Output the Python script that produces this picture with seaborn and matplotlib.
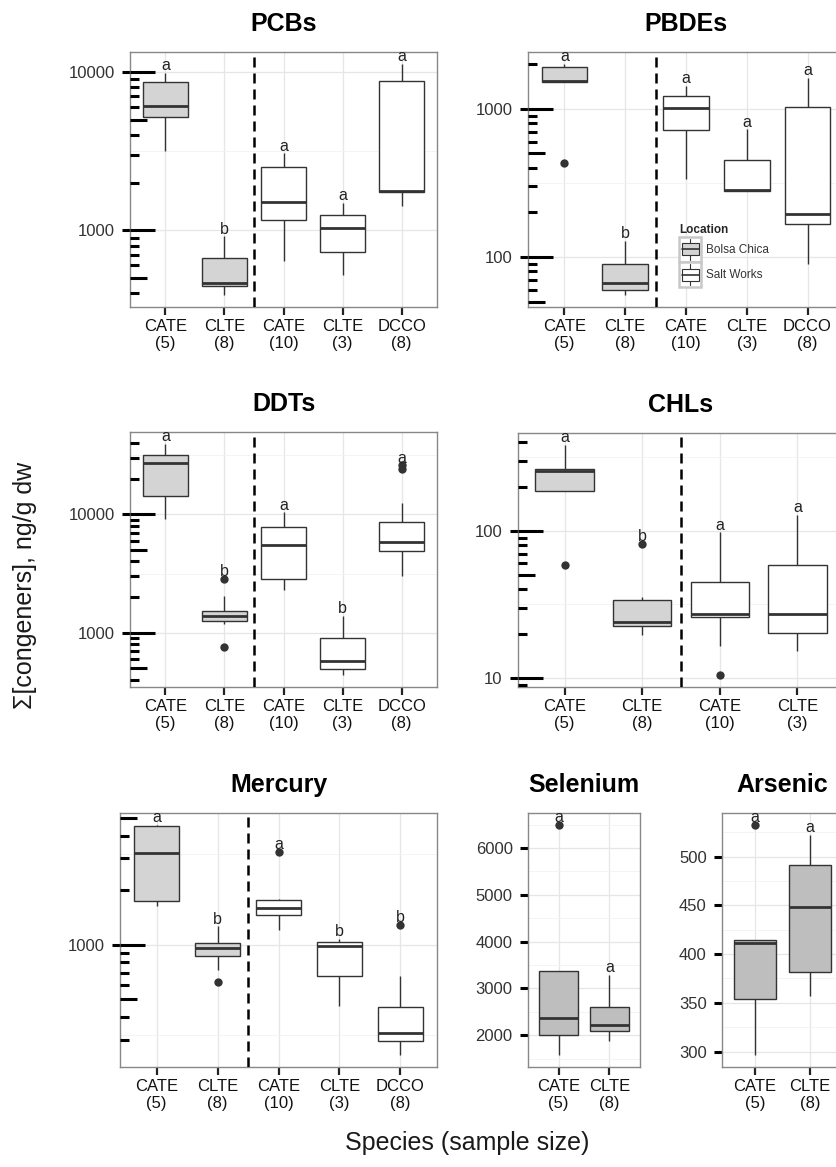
import numpy as np
import pandas as pd
import matplotlib
matplotlib.use("Agg")
import matplotlib.pyplot as plt
from matplotlib.patches import Patch, Rectangle
from matplotlib.lines import Line2D
from matplotlib.legend_handler import HandlerBase
from matplotlib.ticker import LogLocator, MultipleLocator, NullFormatter, NullLocator, FuncFormatter
import seaborn as sns

# species labels (with sample size) and sampling location
labels5 = ["CATE\n(5)", "CLTE\n(8)", "CATE\n(10)", "CLTE\n(3)", "DCCO\n(8)"]
labels4 = labels5[:4]
labels2 = labels5[:2]
sites5 = ["Bolsa Chica", "Bolsa Chica", "Salt Works", "Salt Works", "Salt Works"]
sites4 = sites5[:4]
sites2 = ["Bolsa Chica", "Bolsa Chica"]

# each box: lower whisker, lower hinge, median, upper hinge, upper whisker
pcb_box = [[3170, 5210, 6080, 8570, 9860],
           [388, 445, 462, 667, 916],
           [638, 1167, 1513, 2510, 3060],
           [519, 731, 1035, 1256, 1486],
           [1416, 1733, 1775, 8740, 11280]]
pcb_out = [[], [], [], [], []]
pcb_letters = ["a", "b", "a", "a", "a"]

pbde_box = [[1520, 1520, 1545, 1920, 2020],
            [55, 60, 66.4, 90, 128],
            [335, 714, 1016, 1217, 1420],
            [278, 280, 281, 453, 727],
            [90, 168, 194, 1032, 1618]]
pbde_out = [[428], [], [], [], []]
pbde_letters = ["a", "b", "a", "a", "a"]

ddt_box = [[9130, 14300, 27100, 31600, 39600],
           [1178, 1248, 1395, 1538, 2040],
           [2280, 2860, 5490, 7760, 10400],
           [436, 498, 574, 902, 1390],
           [3010, 4940, 5860, 8660, 12400]]
ddt_out = [[], [760, 2860], [], [], [24300, 25900]]
ddt_letters = ["a", "b", "a", "b", "a"]

chl_box = [[187, 187, 255, 264, 386],
           [19.6, 22.5, 23.9, 34.1, 35.4],
           [16.6, 25.9, 27.3, 44.7, 97.5],
           [15.2, 20.3, 27.0, 58.5, 128]]
chl_out = [[58.9], [81.3], [10.4], []]
chl_letters = ["a", "b", "a", "a"]

hg_box = [[1640, 1735, 3220, 4540, 4600],
          [724, 869, 954, 1026, 1263],
          [1210, 1465, 1600, 1773, 1787],
          [460, 671, 987, 1035, 1075],
          [245, 295, 325, 456, 674]]
hg_out = [[], [619], [3236], [], [1290]]
hg_letters = ["a", "b", "a", "b", "b"]

se_box = [[1569, 2000, 2375, 3378, 3378],
          [1887, 2099, 2226, 2594, 3286]]
se_out = [[6502], []]
se_letters = ["a", "a"]

as_box = [[296, 354, 411, 414, 414],
          [357, 382, 448, 491.5, 522]]
as_out = [[533], []]
as_letters = ["a", "a"]

W, H = 836, 1167
EDGE = "#333333"
BC_LIGHT = "#d4d4d4"
BC_DARK = "#bebebe"

sns.set_theme(style="whitegrid")
plt.rcParams["font.family"] = ["Liberation Sans", "DejaVu Sans"]

fig = plt.figure(figsize=(W / 100, H / 100), dpi=100)


def make_df(labels, sites, boxes):
    rows = []
    for lab, site, vals in zip(labels, sites, boxes):
        for v in vals:
            rows.append((lab, site, v))
    return pd.DataFrame(rows, columns=["species", "location", "value"])


def draw_panel(rect, title, labels, sites, boxes, outliers, letters, log, bc_fill, step=None):
    l, r, t, b = rect
    ax = fig.add_axes([l / W, 1 - b / H, (r - l) / W, (b - t) / H])
    scale = (False, True) if log else None
    df = make_df(labels, sites, boxes)
    pal = {"Bolsa Chica": bc_fill, "Salt Works": "white"}
    sns.boxplot(data=df, x="species", y="value", hue="location", order=labels,
                palette=pal, dodge=False, width=0.75, whis=np.inf, fliersize=0,
                linecolor=EDGE, linewidth=1.0, saturation=1, legend=False,
                log_scale=scale, showcaps=False,
                medianprops={"linewidth": 2.0}, ax=ax)
    odf = pd.DataFrame([(lab, v) for lab, vs in zip(labels, outliers) for v in vs],
                       columns=["species", "value"])
    if len(odf):
        sns.stripplot(data=odf, x="species", y="value", order=labels, jitter=False,
                      color=EDGE, size=6, linewidth=0, log_scale=scale,
                      legend=False, ax=ax)

    # letters of significance above each group
    for i, (vals, outs, let) in enumerate(zip(boxes, outliers, letters)):
        top = max(list(vals) + list(outs))
        ax.annotate(let, (i, top), xytext=(0, 2), textcoords="offset points",
                    ha="center", va="baseline", fontsize=11.5, color="#222222",
                    clip_on=True)

    if "Salt Works" in sites and "Bolsa Chica" in sites:
        ax.axvline(sites.count("Bolsa Chica") - 0.5, color="black", lw=1.8,
                   ls=(0, (4, 2.4)), zorder=5)

    allv = [v for vs in boxes for v in vs] + [v for vs in outliers for v in vs]
    if log:
        lo, hi = np.log10(min(allv)), np.log10(max(allv))
        ax.set_ylim(10 ** (lo - 0.05 * (hi - lo)), 10 ** (hi + 0.05 * (hi - lo)))
        ax.yaxis.set_major_locator(LogLocator(base=10, subs=(1.0,)))
        ax.yaxis.set_minor_locator(LogLocator(base=10, subs=(10 ** 0.5,)))
        ax.yaxis.set_major_formatter(FuncFormatter(lambda v, p: f"{v:.0f}"))
        ax.yaxis.set_minor_formatter(NullFormatter())
        # log tick annotation along the left edge
        for subs, major_len, minor_subs in [((1.0,), 18, (2, 3, 4, 6, 7, 8, 9)), ((5.0,), 12, None)]:
            sec = ax.secondary_yaxis("left")
            sec.set_zorder(4)
            sec.yaxis.set_major_locator(LogLocator(base=10, subs=subs))
            if minor_subs:
                sec.yaxis.set_minor_locator(LogLocator(base=10, subs=minor_subs))
            else:
                sec.yaxis.set_minor_locator(NullLocator())
            sec.yaxis.set_minor_formatter(NullFormatter())
            sec.tick_params(axis="y", which="both", left=True, labelleft=False,
                            direction="in", width=2.2, color="black")
            sec.tick_params(axis="y", which="major", length=major_len)
            sec.tick_params(axis="y", which="minor", length=6.5)
            for s in sec.spines.values():
                s.set_visible(False)
    else:
        lo, hi = min(allv), max(allv)
        ax.set_ylim(lo - 0.05 * (hi - lo), hi + 0.05 * (hi - lo))
        ax.yaxis.set_major_locator(MultipleLocator(step))
        ax.yaxis.set_minor_locator(MultipleLocator(step / 2))
        ax.yaxis.set_major_formatter(FuncFormatter(lambda v, p: f"{v:.0f}"))

    ax.set_xlim(-0.6, len(labels) - 0.4)
    ax.set_xlabel("")
    ax.set_ylabel("")
    ax.grid(True, which="major", color="#e6e6e6", lw=0.9)
    ax.grid(True, which="minor", axis="y", color="#f3f3f3", lw=0.6)
    ax.xaxis.grid(True, which="major")
    ax.set_axisbelow(True)
    ax.tick_params(axis="x", which="major", bottom=True, direction="out", length=5.5,
                   width=1.6, color="#222222", labelsize=12, labelcolor="#111111", pad=3)
    ax.tick_params(axis="y", which="major", left=True, direction="out", length=6,
                   width=2.2, color="black", labelsize=12, labelcolor="#333333", pad=5)
    ax.tick_params(axis="y", which="minor", length=0)
    for s in ax.spines.values():
        s.set_visible(True)
        s.set_color("#888888")
        s.set_linewidth(1.0)
    ax.set_title(title, fontsize=18, fontweight="bold", pad=15, color="black")
    return ax


class BoxKey(HandlerBase):
    def create_artists(self, legend, orig_handle, xdescent, ydescent, width, height,
                       fontsize, trans):
        x0, y0 = -xdescent, -ydescent
        cx = x0 + width / 2
        frame = Rectangle((x0, y0), width, height, facecolor="white",
                          edgecolor="#c8c8c8", lw=1.8, transform=trans)
        box = Rectangle((x0 + 0.12 * width, y0 + 0.27 * height), 0.76 * width,
                        0.46 * height, facecolor=orig_handle.get_facecolor(),
                        edgecolor=EDGE, lw=0.8, transform=trans)
        med = Line2D([x0 + 0.12 * width, x0 + 0.88 * width], [y0 + 0.5 * height] * 2,
                     color=EDGE, lw=1.2, transform=trans)
        w1 = Line2D([cx, cx], [y0 + 0.08 * height, y0 + 0.27 * height], color=EDGE,
                    lw=0.8, transform=trans)
        w2 = Line2D([cx, cx], [y0 + 0.73 * height, y0 + 0.92 * height], color=EDGE,
                    lw=0.8, transform=trans)
        return [frame, box, med, w1, w2]


draw_panel((130, 437, 52, 307), "PCBs", labels5, sites5, pcb_box, pcb_out, pcb_letters, True, BC_LIGHT)
ax_pbde = draw_panel((528, 844, 52, 307), "PBDEs", labels5, sites5, pbde_box, pbde_out, pbde_letters, True, BC_LIGHT)
draw_panel((130, 437, 432, 687), "DDTs", labels5, sites5, ddt_box, ddt_out, ddt_letters, True, BC_LIGHT)
draw_panel((518, 844, 433, 687), "CHLs", labels4, sites4, chl_box, chl_out, chl_letters, True, BC_LIGHT)
draw_panel((120, 437, 813, 1067), "Mercury", labels5, sites5, hg_box, hg_out, hg_letters, True, BC_LIGHT)
draw_panel((528, 640, 813, 1067), "Selenium", labels2, sites2, se_box, se_out, se_letters, False, BC_DARK, step=1000)
draw_panel((722, 843, 813, 1067), "Arsenic", labels2, sites2, as_box, as_out, as_letters, False, BC_DARK, step=50)

handles = [Patch(facecolor=BC_LIGHT, edgecolor=EDGE, label="Bolsa Chica"),
           Patch(facecolor="white", edgecolor=EDGE, label="Salt Works")]
ax_pbde.legend(handles=handles, title="Location", loc="upper left",
               bbox_to_anchor=(679 / W, 1 - 224 / H), bbox_transform=fig.transFigure,
               frameon=False, fontsize=8.5, title_fontproperties={"weight": "bold", "size": 8.5},
               handler_map={Patch: BoxKey()}, handlelength=1.9, handleheight=2.9,
               handletextpad=0.4, labelspacing=0.05, borderpad=0, borderaxespad=0,
               alignment="left", labelcolor="#333333")

fig.text(467 / W, 1 - 1143 / H, "Species (sample size)", ha="center", va="center",
         fontsize=18, color="#1a1a1a")
fig.text(25 / W, 1 - 585 / H, "Σ[congeners], ng/g dw", ha="center", va="center",
         rotation=90, fontsize=18, color="#1a1a1a")

fig.savefig("out.png", dpi=100)
